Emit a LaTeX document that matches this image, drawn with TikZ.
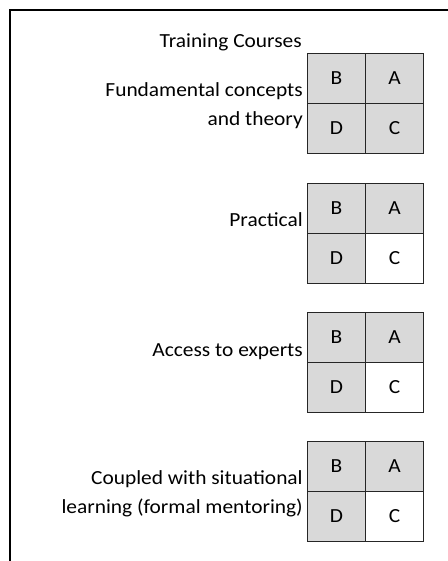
\documentclass[tikz,border=0pt]{standalone}
\usepackage{fontspec}
\setmainfont{Carlito}[FakeStretch=1.07]
\begin{document}
\begin{tikzpicture}[x=0.75pt,y=-0.75pt,
  txt/.style={font=\fontsize{15}{22}\selectfont},
  cell/.style={txt,draw=black!85,line width=0.8pt,minimum width=43.5pt,minimum height=37.5pt,inner sep=0pt,anchor=north west},
  gcell/.style={cell,fill=black!15},
  wcell/.style={cell,fill=white},
  lab/.style={txt,align=right,anchor=base east,inner sep=0pt},
  frame/.style={line width=1.1pt}]
\useasboundingbox (0,0) rectangle (448,561);
\coordinate (ftr) at (448,10);
\coordinate (ftl) at (10,10);
\coordinate (fbl) at (10,561);
\draw[frame] (ftr) -- (ftl) -- (fbl);
\node[lab] (title) at (302,47) {Training Courses};
% grid 1
\node[gcell] (b1) at (307,53) {B};
\node[gcell] (a1) at (365,53) {A};
\node[gcell] (d1) at (307,103) {D};
\node[gcell] (c1) at (365,103) {C};
\node[lab] (l1) at (303,125.5) {Fundamental concepts\\and theory};
% grid 2
\node[gcell] (b2) at (307,183) {B};
\node[gcell] (a2) at (365,183) {A};
\node[gcell] (d2) at (307,233) {D};
\node[wcell] (c2) at (365,233) {C};
\node[lab] (l2) at (303,226) {Practical};
% grid 3
\node[gcell] (b3) at (307,312) {B};
\node[gcell] (a3) at (365,312) {A};
\node[gcell] (d3) at (307,362) {D};
\node[wcell] (c3) at (365,362) {C};
\node[lab] (l3) at (303,356) {Access to experts};
% grid 4
\node[gcell] (b4) at (307,441) {B};
\node[gcell] (a4) at (365,441) {A};
\node[gcell] (d4) at (307,491) {D};
\node[wcell] (c4) at (365,491) {C};
\node[lab] (l4) at (303,513.5) {Coupled with situational\\learning (formal mentoring)};
\end{tikzpicture}
\end{document}
